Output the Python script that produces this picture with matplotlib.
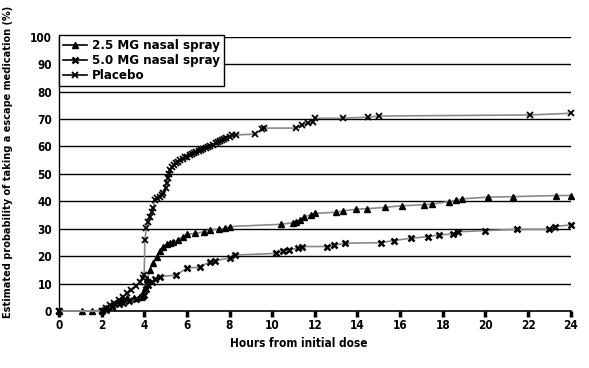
import matplotlib
matplotlib.use('Agg')
import matplotlib.pyplot as plt
from matplotlib.ticker import MultipleLocator

plt.rcParams['font.family'] = ['DejaVu Sans']
plt.rcParams['font.stretch'] = 'condensed'
plt.rcParams['font.weight'] = 'bold'

# 2.5 MG nasal spray (triangles)
mg25_h = [0, 1.06, 1.53, 2.0, 2.2, 2.5, 2.75, 2.94, 3.2, 3.5, 3.8, 3.95, 4.05,
          4.15, 4.27, 4.4, 4.58, 4.75, 4.9, 5.05, 5.2, 5.36, 5.6, 5.83, 6.0,
          6.4, 6.8, 7.1, 7.5, 7.8, 8.0, 10.4, 11.0, 11.1, 11.3, 11.5, 11.8,
          12.0, 13.0, 13.3, 13.95, 14.45, 15.3, 16.1, 17.1, 17.5, 18.3, 18.6,
          18.9, 20.1, 21.3, 23.3, 24.0]
mg25_p = [0, 0, 0, 0.3, 1.0, 2.0, 3.5, 4.6, 4.6, 4.6, 5.2, 6.0, 8.5,
          11.5, 15.0, 17.5, 19.8, 22.0, 23.5, 24.3, 24.7, 25.3, 26.0, 27.1, 28.0,
          28.3, 28.9, 29.6, 29.8, 30.2, 30.8, 31.6, 32.2, 32.6, 33.2, 34.4, 35.0,
          35.6, 36.0, 36.5, 37.1, 37.3, 37.8, 38.4, 38.7, 39.0, 39.9, 40.3,
          40.9, 41.5, 41.7, 42.1, 42.1]

# 5.0 MG nasal spray (bold x)
mg50_h = [0, 2.0, 2.2, 2.5, 2.8, 3.0, 3.3, 3.6, 3.9, 4.0, 4.1, 4.2, 4.35,
          4.5, 4.73, 5.5, 6.0, 6.6, 7.1, 7.3, 8.0, 8.25, 10.2, 10.5, 10.8,
          11.2, 11.4, 12.55, 12.9, 13.4, 15.1, 15.7, 16.5, 17.3, 17.8, 18.5,
          18.7, 20.0, 21.5, 23.0, 23.25, 24.0]
mg50_p = [0, 0, 0.5, 1.5, 2.5, 3.0, 3.5, 4.2, 5.0, 6.0, 8.0, 9.5, 10.5,
          11.5, 12.5, 13.1, 15.6, 16.0, 18.0, 18.3, 19.3, 20.4, 21.0, 22.0, 22.3,
          22.9, 23.5, 23.5, 24.0, 24.7, 24.9, 25.7, 26.5, 27.1, 27.7, 28.1,
          28.9, 29.3, 29.8, 29.8, 30.8, 31.4]

# Placebo (small x)
plc_h = [0, 2.0, 2.2, 2.4, 2.6, 2.8, 3.0, 3.2, 3.4, 3.6, 3.8, 3.95, 4.0,
         4.03, 4.1, 4.2, 4.27, 4.35, 4.42, 4.5, 4.6, 4.73, 4.82, 4.9, 5.0,
         5.05, 5.1, 5.15, 5.2, 5.3, 5.4, 5.5, 5.6, 5.7, 5.8, 5.9, 6.0, 6.14,
         6.25, 6.35, 6.45, 6.55, 6.65, 6.75, 6.9, 7.0, 7.1, 7.23, 7.35, 7.45,
         7.55, 7.65, 7.75, 7.85, 8.0, 8.1, 8.3, 9.2, 9.5, 9.6, 11.1, 11.4,
         11.7, 11.9, 12.0, 13.3, 14.5, 15.0, 22.1, 24.0]
plc_p = [0, 0, 1.0, 2.0, 3.0, 4.0, 5.0, 6.5, 7.5, 9.0, 10.5, 12.0, 13.0,
         25.9, 30.2, 32.5, 34.4, 36.0, 37.5, 40.5, 41.2, 41.7, 42.2, 43.0, 45.0,
         46.6, 48.4, 50.0, 51.5, 52.5, 53.2, 53.9, 54.5, 55.0, 55.5, 56.0, 56.3,
         56.8, 57.2, 57.6, 58.0, 58.3, 58.6, 58.9, 59.4, 59.8, 60.2, 60.7, 61.2,
         61.6, 62.0, 62.4, 62.8, 63.2, 63.6, 64.0, 64.2, 64.5, 66.3, 66.7, 66.7,
         67.9, 68.5, 69.0, 70.3, 70.3, 70.7, 71.1, 71.5, 72.1]

fig = plt.figure(figsize=(5.89, 3.68), dpi=100)
ax = fig.add_axes([0.100, 0.155, 0.869, 0.745])

for y in range(10, 101, 10):
    ax.hlines(y, 0, 24, color='black', linewidth=1.0, zorder=1)

ax.plot(mg25_h, mg25_p, color='#8a8a8a', linewidth=1.2, marker='^',
        markersize=4.5, markerfacecolor='black', markeredgecolor='black',
        clip_on=False, zorder=3, label='2.5 MG nasal spray')
ax.plot(mg50_h, mg50_p, color='#8a8a8a', linewidth=1.2, marker='x',
        markersize=5, markeredgewidth=1.8, markeredgecolor='black',
        clip_on=False, zorder=3, label='5.0 MG nasal spray')
ax.plot(plc_h, plc_p, color='#8a8a8a', linewidth=1.2, marker='x',
        markersize=3.8, markeredgewidth=1.3, markeredgecolor='black',
        clip_on=False, zorder=4, label='Placebo')

ax.set_xlim(0, 24)
ax.set_ylim(0, 100)
ax.xaxis.set_major_locator(MultipleLocator(2))
ax.yaxis.set_major_locator(MultipleLocator(10))
for s in ['top', 'right']:
    ax.spines[s].set_visible(False)
ax.spines['left'].set_linewidth(1.0)
ax.spines['bottom'].set_linewidth(1.2)
ax.tick_params(axis='x', direction='out', length=4, width=2.5, labelsize=8.5, pad=2)
ax.tick_params(axis='y', length=0, labelsize=8.5, pad=5)

ax.set_xlabel('Hours from initial dose', fontsize=8.5, fontweight='bold')
ax.xaxis.set_label_coords(0.469, -0.095)
ax.set_ylabel('Estimated probability of taking a escape medication (%)',
              fontsize=7.8, fontweight='bold')
ax.yaxis.set_label_coords(-0.09, 0.545)

leg = ax.legend(loc='upper left', bbox_to_anchor=(0.0, 1.005), fontsize=9.5,
                frameon=True, fancybox=False, edgecolor='black',
                framealpha=1, handlelength=1.8, handletextpad=0.4,
                borderpad=0.3, labelspacing=0.15, borderaxespad=0.0)
leg.get_frame().set_linewidth(1.0)
for line in leg.get_lines():
    line.set_color('black')

fig.savefig('out.png', dpi=100)
